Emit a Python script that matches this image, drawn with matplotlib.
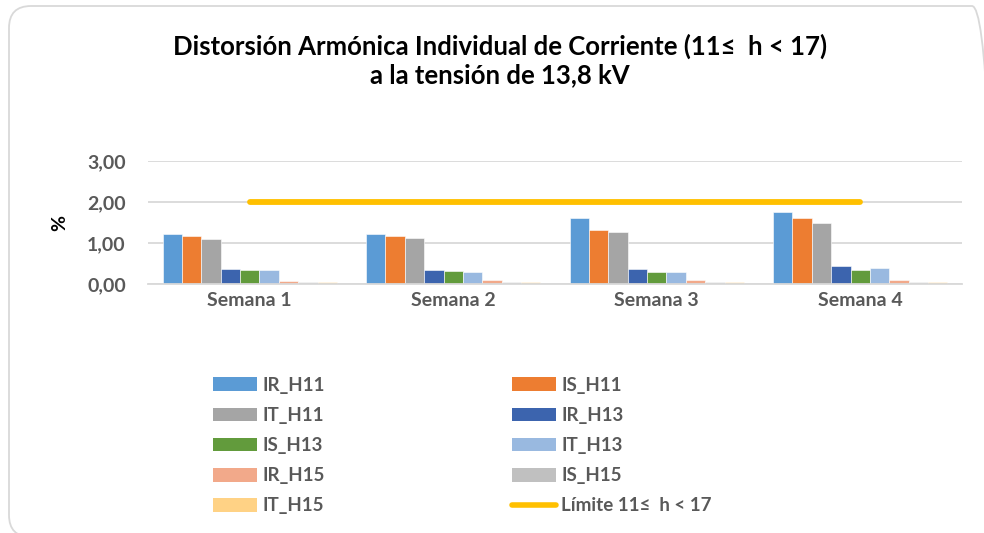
"""Distorsion armonica individual de corriente, 11 <= h < 17, barras por semana."""

import matplotlib
matplotlib.use("Agg")
import matplotlib.pyplot as plt
from matplotlib.patches import FancyBboxPatch, Patch
from matplotlib.lines import Line2D
from matplotlib.ticker import FuncFormatter
import numpy as np

# =============================================================================
# Data
# =============================================================================
semanas = ["Semana 1", "Semana 2", "Semana 3", "Semana 4"]
series = ["IR_H11", "IS_H11", "IT_H11", "IR_H13", "IS_H13", "IT_H13",
          "IR_H15", "IS_H15", "IT_H15"]

ir_h11 = [1.21, 1.23, 1.60, 1.75]
is_h11 = [1.18, 1.18, 1.31, 1.60]
it_h11 = [1.09, 1.12, 1.27, 1.48]
ir_h13 = [0.37, 0.35, 0.37, 0.44]
is_h13 = [0.33, 0.32, 0.30, 0.34]
it_h13 = [0.35, 0.29, 0.29, 0.40]
ir_h15 = [0.08, 0.10, 0.10, 0.10]
is_h15 = [0.04, 0.04, 0.05, 0.05]
it_h15 = [0.04, 0.04, 0.05, 0.05]
limite = [2.00, 2.00, 2.00, 2.00]
limite_label = "Límite 11≤  h < 17"

values = [ir_h11, is_h11, it_h11, ir_h13, is_h13, it_h13, ir_h15, is_h15, it_h15]

# Excel-like colours
colors = ["#5B9BD5", "#ED7D31", "#A5A5A5", "#3C64AE", "#629B3C", "#99B9E0",
          "#F2A98A", "#C0C0C0", "#FFD285"]
line_color = "#FFC000"
text_gray = "#595959"
grid_gray = "#D9D9D9"

plt.rcParams["font.family"] = ["Lato", "DejaVu Sans"]

# =============================================================================
# Plot
# =============================================================================
fig = plt.figure(figsize=(9.84, 5.33), dpi=100)

# Rounded chart border (display pixels, origin bottom left), cut by the image edge
border = FancyBboxPatch((9, -4), 985, 531, boxstyle="round,pad=0,rounding_size=22",
                        transform=None, facecolor="none", edgecolor="#D9D9D9",
                        linewidth=1.3, zorder=-1)
fig.patches.append(border)

ax = fig.add_axes([148 / 984, 1 - 284 / 533, (962 - 148) / 984, (284 - 161) / 533])
ax.set_facecolor("none")

x = np.arange(len(semanas))
n = len(series)
width = 1 / (n + 1.5)
for i, (name, vals) in enumerate(zip(series, values)):
    offset = (i - (n - 1) / 2) * width
    ax.bar(x + offset, vals, width, color=colors[i], label=name,
           edgecolor="white", linewidth=0.4, zorder=2)

ax.plot(x, limite, color=line_color, linewidth=4.2, solid_capstyle="round",
        label=limite_label, zorder=3)

ax.set_xlim(-0.5, len(semanas) - 0.5)
ax.set_ylim(0, 3)
ax.set_yticks([0, 1, 2, 3])
ax.yaxis.set_major_formatter(FuncFormatter(lambda v, p: f"{v:.2f}".replace(".", ",")))
ax.set_xticks(x)
ax.set_xticklabels(semanas)

ax.grid(axis="y", color=grid_gray, linewidth=1.3, zorder=0)
ax.set_axisbelow(True)
for side in ["top", "right", "left"]:
    ax.spines[side].set_visible(False)
ax.spines["bottom"].set_color(grid_gray)
ax.spines["bottom"].set_linewidth(1.3)

ax.tick_params(axis="y", length=0, pad=16, labelsize=14, labelcolor=text_gray)
ax.tick_params(axis="x", length=0, pad=6, labelsize=14, labelcolor=text_gray)
for lab in ax.get_xticklabels() + ax.get_yticklabels():
    lab.set_fontweight("bold")

fig.text(60 / 984, 1 - 223 / 533, "%", rotation=90, ha="center", va="center",
         fontsize=14, fontweight="bold", color="black")

# Title
fig.text(500 / 984, 1 - 60 / 533,
         "Distorsión Armónica Individual de Corriente (11≤  h < 17)\na la tensión de 13,8 kV",
         ha="center", va="center", fontsize=18.5, fontweight="bold",
         color="black", linespacing=1.2)

# Legend: Excel fills row by row, matplotlib column by column
handles = [Patch(facecolor=c, edgecolor="none") for c in colors]
handles.append(Line2D([0], [0], color=line_color, linewidth=4, solid_capstyle="round"))
labels = series + [limite_label]
order = [0, 2, 4, 6, 8, 1, 3, 5, 7, 9]
leg = fig.legend([handles[i] for i in order], [labels[i] for i in order],
                 ncol=2, loc="upper left", bbox_to_anchor=(196 / 984, 1 - 360 / 533),
                 frameon=False, prop={"size": 13.5, "weight": "bold"},
                 handlelength=2.35, handleheight=0.75, handletextpad=0.3,
                 labelspacing=0.7, columnspacing=9.95)
for t in leg.get_texts():
    t.set_color(text_gray)

plt.savefig("out.png", dpi=100)
